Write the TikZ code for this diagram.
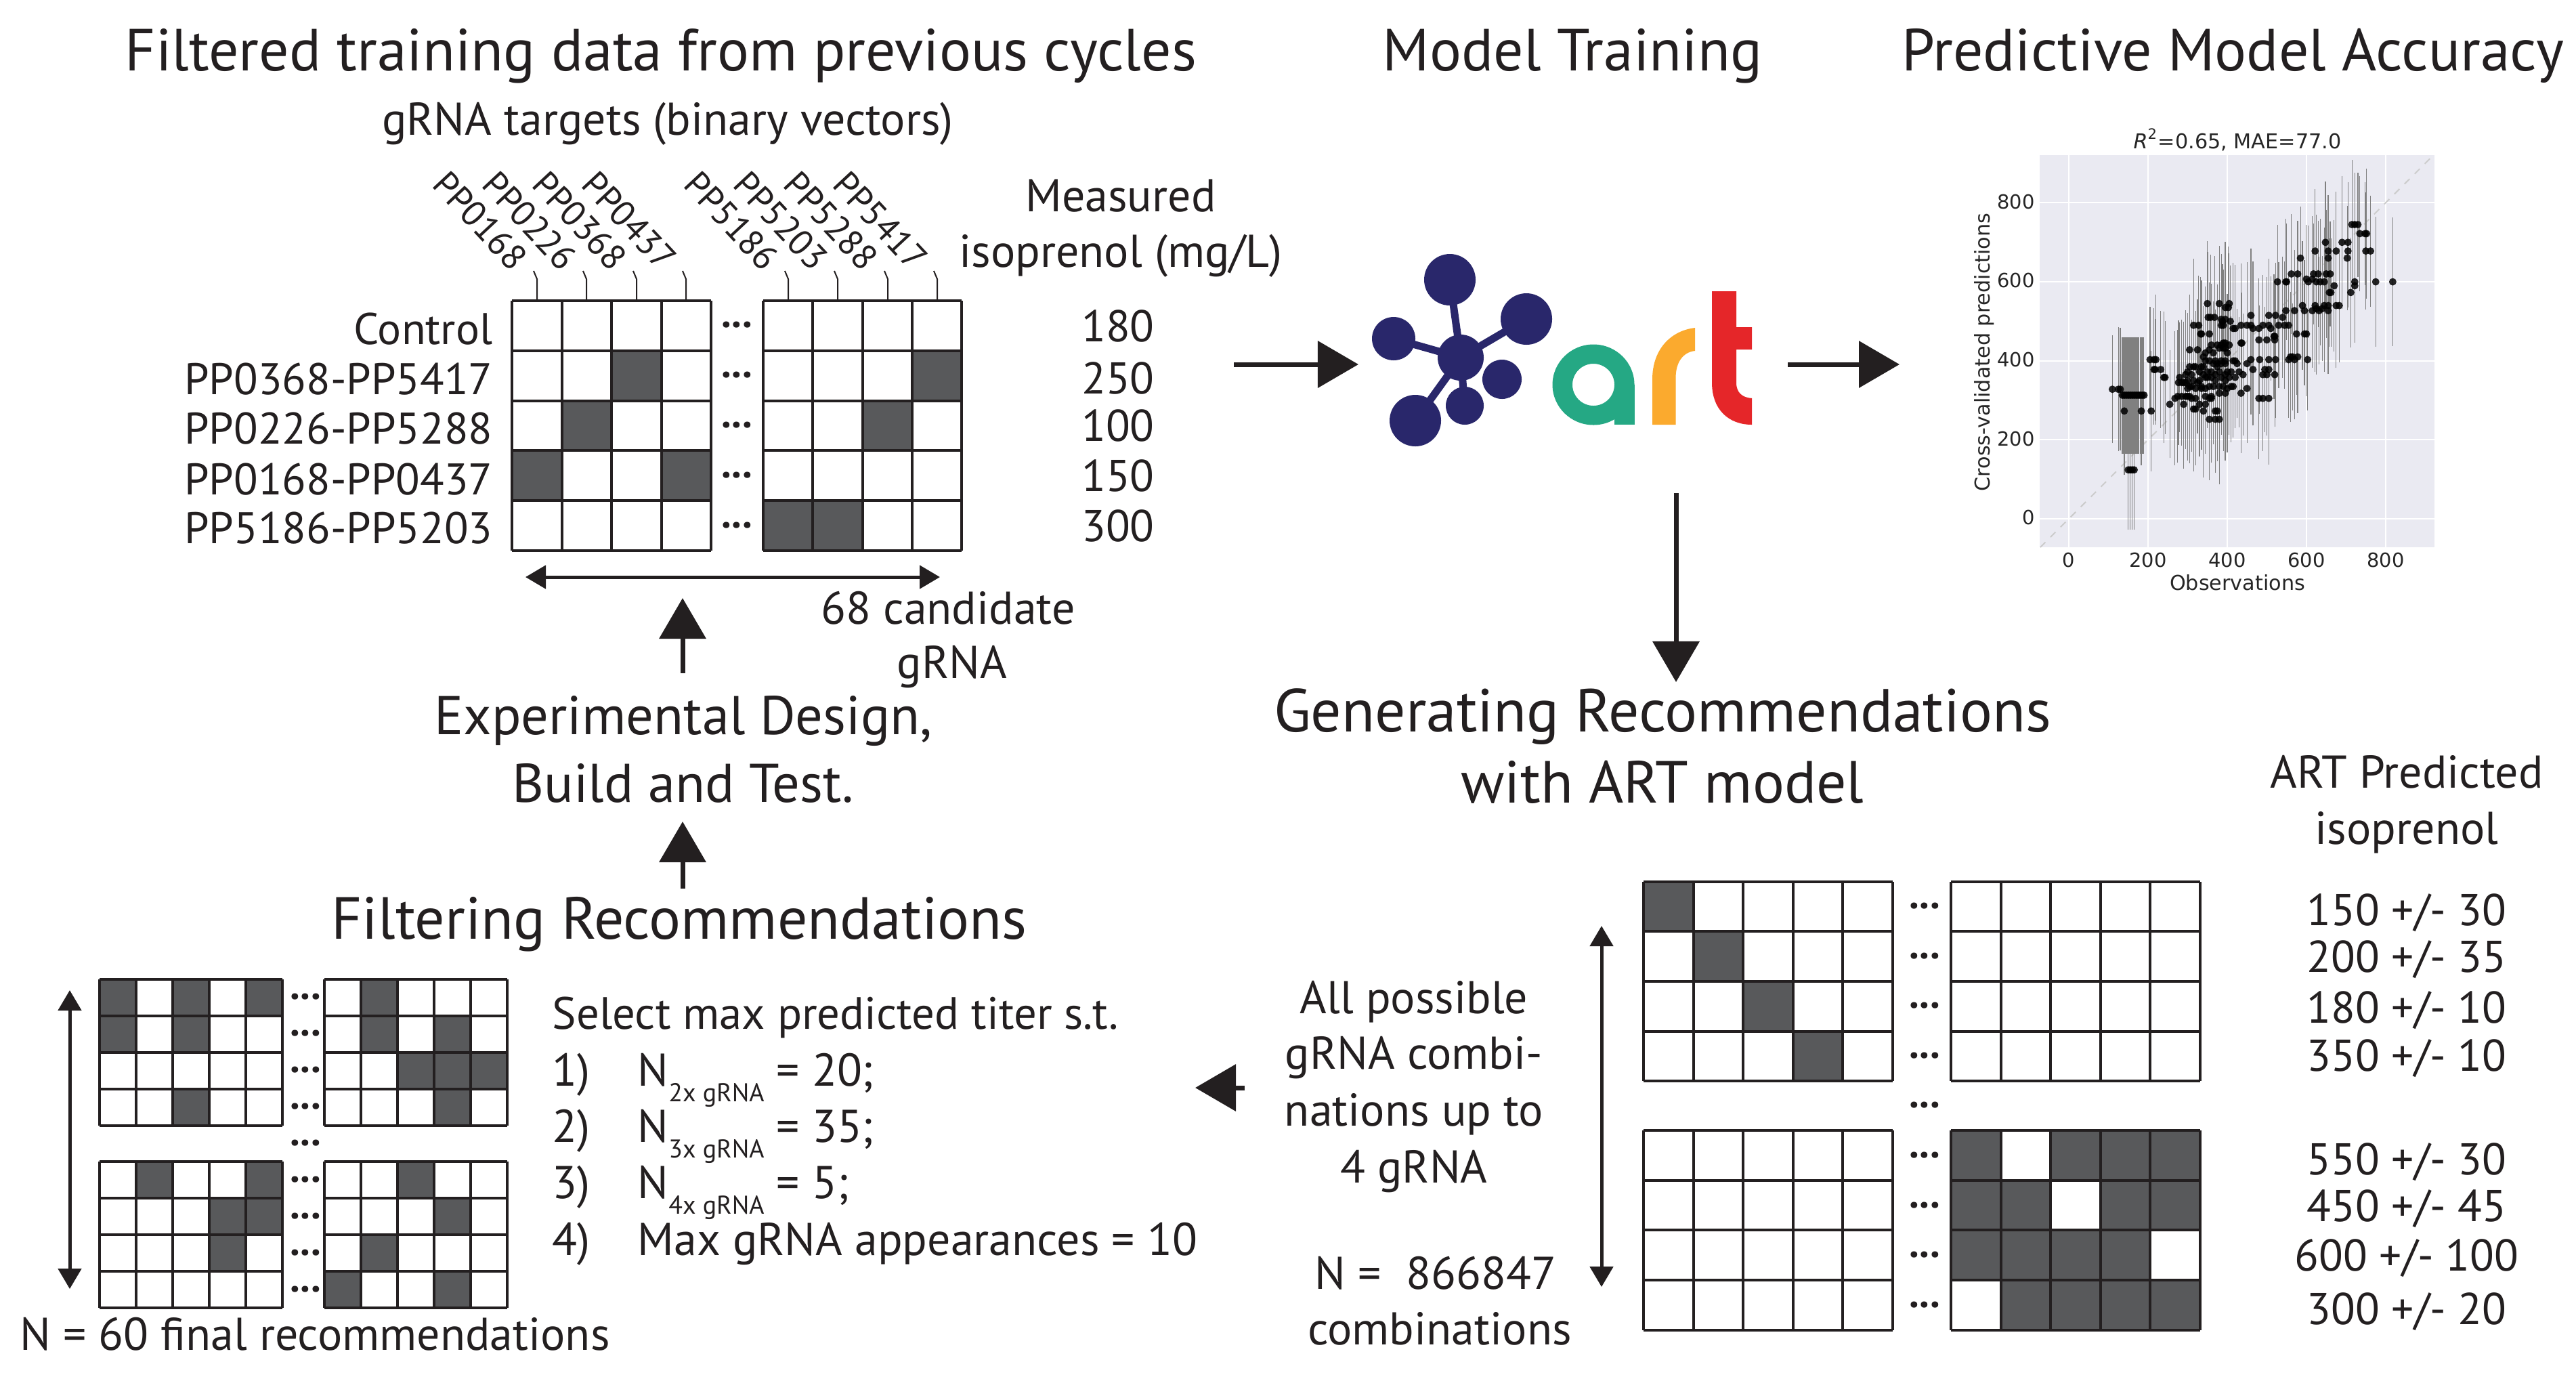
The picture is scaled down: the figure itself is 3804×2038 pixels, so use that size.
\documentclass[tikz,border=0pt]{standalone}
\usepackage{fontspec}
\setmainfont{PT Sans}
\newfontfamily\plotfont{DejaVu Sans}
\usetikzlibrary{arrows.meta,positioning}
\definecolor{inkblack}{RGB}{35,31,32}
\definecolor{cellgray}{RGB}{88,89,91}
\definecolor{plotback}{RGB}{234,234,242}
\definecolor{plotink}{RGB}{38,38,38}
\definecolor{artnavy}{RGB}{41,39,107}
\definecolor{artgreen}{RGB}{37,168,132}
\definecolor{artorange}{RGB}{251,170,46}
\definecolor{artred}{RGB}{229,38,41}
\tikzset{
	txt/.style={inner sep=0pt, anchor=base, text=inkblack},
	headtxt/.style={txt, font=\fontsize{24.95}{29}\selectfont},
	steptxt/.style={txt, font=\fontsize{22.9}{27}\selectfont},
	bodytxt/.style={txt, font=\fontsize{18.6}{23}\selectfont},
	smalltxt/.style={txt, font=\fontsize{19.3}{23}\selectfont},
	valtxt/.style={txt, font=\fontsize{18.7}{23}\selectfont},
	moredots/.style={inner sep=0pt, text=inkblack, font=\fontsize{17}{19}\bfseries\selectfont},
	plottxt/.style={inner sep=0pt, anchor=base, text=plotink, font=\fontsize{8.2}{10}\plotfont},
	gridline/.style={draw=inkblack, line width=.04cm},
	bigarrow/.style={draw=inkblack, fill=inkblack, line width=.07cm, -{Triangle[length=.6cm,width=.68cm]}},
	twoway/.style={draw=inkblack, fill=inkblack, line width=.05cm, {Triangle[length=.3cm,width=.34cm]}-{Triangle[length=.3cm,width=.34cm]}},
}
\newcommand{\cellfill}[5]{%
	\foreach \gc/\gr in {#5} {\fill[cellgray] ({#1+\gc*#3},{#2+\gr*#4}) rectangle +(#3,#4);}}
\newcommand{\cellgrid}[6]{%
	\foreach \gc in {0,...,#3} {\draw[gridline] ({#1+\gc*#5},#2) -- +(0,{#4*#6});}
	\foreach \gr in {0,...,#4} {\draw[gridline] (#1,{#2+\gr*#6}) -- +({#3*#5},0);}}
\newcommand{\nsub}[2]{N\raisebox{-.23cm}{\fontsize{10.8}{13}\selectfont #1 gRNA} = #2;}
\newcommand{\scatterdata}{745/{715,722,730}, 722/{735,748,752}, 700/{648,690,705}, 678/{622,655,675,705,750,762},
	660/{585,655,703}, 620/{562,578,618,630,650,660}, 607/{600,615}, 600/{527,548,550,605,625,635,645,722,775,818},
	590/{670,722}, 573/{658,662,712}, 540/{590,622,645,655,675,683}, 527/{548,570,595,615,632,655}, 532/{625,640},
	515/{460,505,522}, 510/{352,358,368,540}, 545/{350,380,405}, 535/{395,403}, 505/{385,395}, 500/{388,408},
	490/{315,328,385,390,435,450,460,490,505,530,545,555}, 482/{415,420,465,480,510}, 468/{333,335,355,575,595,600},
	462/{518,520}, 453/{480,500,520}, 445/{390,395,435,437}, 440/{360,375,385,405}, 432/{380,390,395}, 428/{305,325,355},
	420/{345,365,400}, 410/{340,560,565,578}, 403/{205,215,220,460,482,505,522,555,570,603}, 400/{345,355,370,385,395,415,420},
	393/{365,375,385,395,425,450}, 385/{305,315,320,335,340,375}, 378/{215,218,232,465,495,505}, 372/{300,330,350,360,380,400,410,430},
	365/{295,310,340,370,395,440,490,500,520}, 358/{240,243,280,345,350,360,385,405,420}, 350/{300,315,330,370,395}, 345/{277,285,290,295,325},
	335/{305,310,335,355,365,380,390,410,415}, 330/{300,320,335,345,400,450}, 318/{380,395,435},
	310/{275,285,295,300,305,345,360}, 305/{268,310,320,355,360,480,490,505}, 290/{255,290,330,345}, 278/{315,320},
	273/{140,183,208,340,370,375}, 252/{355,370,380}, 328/{110,125,130}}

\begin{document}
\begin{tikzpicture}[x=.01cm, y=-.01cm]
	\path[use as bounding box, fill=white] (0,0) rectangle (3804,2038);

	% Titoli
	\node[headtxt] (titleData) at (976,104) {Filtered training data from previous cycles};
	\node[headtxt] (titleModel) at (2322,104) {Model Training};
	\node[headtxt] (titleAccuracy) at (3297,104) {Predictive Model Accuracy};
	\node[smalltxt] (targetsHead) at (986,199) {gRNA targets (binary vectors)};
	\node[smalltxt] (measHead) at (1655,312) {Measured};
	\node[smalltxt, below=.82cm of measHead.base, anchor=base] (measUnit) {isoprenol (mg/L)};

	% Griglia misurata
	\cellfill{756}{444}{73.5}{73.8}{2/1, 1/2, 0/3, 3/3}
	\cellfill{1127}{444}{73.25}{73.8}{3/1, 2/2, 0/4, 1/4}
	\cellgrid{756}{444}{4}{5}{73.5}{73.8}
	\cellgrid{1127}{444}{4}{5}{73.25}{73.8}
	\foreach \tickx/\gene in {793/PP0168, 866/PP0226, 940/PP0368, 1013/PP0437, 1164/PP5186, 1237/PP5203, 1311/PP5288, 1384/PP5417} {
		\draw[inkblack, line width=.02cm] (\tickx,444) -- (\tickx,412) -- ++(-5,-12);
		\node[txt, anchor=east, rotate=-47, font=\fontsize{15}{18}\selectfont] (\gene) at ({\tickx-24},390) {\gene};
	}
	\foreach \i/\rowname/\rowbase/\val/\valbase in {1/Control/508/180/504, 2/PP0368-PP5417/582/250/581, 3/PP0226-PP5288/655/100/651, 4/PP0168-PP0437/730/150/725, 5/PP5186-PP5203/802/300/799} {
		\node[bodytxt, anchor=base east] (row\i) at (728,\rowbase) {\rowname};
		\node[valtxt] (val\i) at (1651,\valbase) {\val};
		\node[moredots] (rowdots\i) at (1088,{480+(\i-1)*73.8}) {...};
	}
	\coordinate (spanL) at (776,852);
	\coordinate (spanR) at (1388,852);
	\draw[twoway] (spanL) -- (spanR);
	\node[smalltxt] (candA) at (1400,921) {68 candidate};
	\node[smalltxt, below=.8cm of candA.base, anchor=base, xshift=.06cm] (candB) {gRNA};

	% Progettazione
	\node[steptxt] (expA) at (1009,1084) {Experimental Design,};
	\node[steptxt, below=1cm of expA.base, anchor=base] (expB) {Build and Test.};
	\coordinate (upOneTail) at (1008,994);
	\coordinate (upOneTip) at (1008,883);
	\draw[bigarrow] (upOneTail) -- (upOneTip);
	\coordinate (upTwoTail) at (1008,1312);
	\coordinate (upTwoTip) at (1008,1213);
	\draw[bigarrow] (upTwoTail) -- (upTwoTip);

	% Logo
	\foreach \bx/\by/\brad in {2141/413/38, 2254/471/38, 2058/500/32, 2157/528/34, 2218/560/29, 2163/599/28, 2090/621/38} {
		\fill[artnavy] (\bx,\by) circle[radius=\brad];
	}
	\foreach \bx/\by in {2141/413, 2254/471, 2058/500, 2163/599, 2090/621} {
		\draw[artnavy, line width=.11cm] (2157,528) -- (\bx,\by);
	}
	\fill[artgreen, even odd rule] (2353,568) ellipse[x radius=60.5, y radius=59.5] (2353,568) ellipse[x radius=31, y radius=31];
	\fill[artgreen] (2384,568) rectangle (2413.5,627);
	\fill[artorange] (2440,627) -- (2440,560) .. controls (2440,515) and (2468,488) .. (2503,484) -- (2503,518) .. controls (2485,520) and (2474.5,535) .. (2474.5,558) -- (2474.5,627) -- cycle;
	\fill[artred] (2528,430) -- (2564,430) -- (2564,483) -- (2587,483) -- (2587,516) -- (2564,516) -- (2564,565) .. controls (2564,580) and (2573,587) .. (2587,588) -- (2587,627) .. controls (2553,627) and (2528,605) .. (2528,565) -- cycle;
	\coordinate (trainIn) at (1822,538);
	\coordinate (trainInTip) at (2006,538);
	\draw[bigarrow] (trainIn) -- (trainInTip);
	\coordinate (trainOut) at (2640,538);
	\coordinate (trainOutTip) at (2805,538);
	\draw[bigarrow] (trainOut) -- (trainOutTip);
	\coordinate (genTail) at (2475,728);
	\coordinate (genTip) at (2475,1007);
	\draw[bigarrow] (genTail) -- (genTip);

	% Grafico
	\fill[plotback] (3012,229) rectangle (3595,808);
	\node[plottxt, font=\fontsize{8.6}{10}\plotfont] (plotTitle) at (3304,219) {\textit{R}\textsuperscript{2}=0.65, MAE=77.0};
	\node[plottxt, font=\fontsize{8.6}{10}\plotfont] (plotX) at (3304,871) {Observations};
	\node[plottxt, font=\fontsize{8.6}{10}\plotfont, rotate=90] (plotY) at (2938,520) {Cross-validated predictions};
	\begin{scope}[shift={(3055,766)}, x=.005843cm, y=.005825cm]
		\foreach \tick in {0,200,400,600,800} {
			\draw[white, line width=.02cm] (\tick,-72) -- (\tick,922);
			\draw[white, line width=.02cm] (-73.6,\tick) -- (924,\tick);
			\node[plottxt] (xtick\tick) at (\tick,-122) {\tick};
			\node[plottxt, anchor=mid east] (ytick\tick) at (-85,\tick) {\tick};
		}
		\draw[gray!40, dashed, line width=.02cm] (-72,-72) -- (922,922);
		\pgfmathsetseed{7}
		\foreach \py/\xs in \scatterdata {
			\foreach \px in \xs {
				\pgfmathsetmacro{\perr}{125+45*rnd}
				\draw[gray, line width=.012cm] (\px,\py-\perr) -- (\px,\py+\perr);
			}
		}
		\foreach \px in {135,138,...,190} {\draw[gray, line width=.016cm] (\px,165) -- (\px,460);}
		\foreach \px in {150,155,160,165} {\draw[gray, line width=.012cm] (\px,-28) -- (\px,276);}
		\foreach \py/\xs in \scatterdata {
			\foreach \px in \xs {\fill[black, opacity=.85] (\px,\py) circle[radius=.055cm];}
		}
		\foreach \px in {135,140,...,190} {\fill[black, opacity=.85] (\px,313) circle[radius=.055cm];}
		\foreach \px in {150,155,160,165} {\fill[black, opacity=.85] (\px,124) circle[radius=.055cm];}
	\end{scope}

	% Raccomandazioni
	\node[headtxt, font=\fontsize{25.5}{29}\selectfont] (genA) at (2455,1080) {Generating Recommendations};
	\node[headtxt, below=1.05cm of genA.base, anchor=base] (genB) {with ART model};
	\node[smalltxt] (predA) at (3554,1163) {ART Predicted};
	\node[smalltxt, below=.83cm of predA.base, anchor=base] (predB) {isoprenol};
	\cellfill{2427}{1301.5}{73.6}{73.7}{0/0, 1/1, 2/2, 3/3}
	\cellfill{2881}{1669}{73.6}{73.7}{0/0, 2/0, 3/0, 4/0, 0/1, 1/1, 3/1, 4/1, 0/2, 1/2, 2/2, 3/2, 1/3, 2/3, 3/3, 4/3}
	\cellgrid{2427}{1301.5}{5}{4}{73.6}{73.7}
	\cellgrid{2881}{1301.5}{5}{4}{73.6}{73.7}
	\cellgrid{2427}{1669}{5}{4}{73.6}{73.7}
	\cellgrid{2881}{1669}{5}{4}{73.6}{73.7}
	\foreach \i/\dotbase in {1/1338, 2/1412, 3/1485, 4/1559, 5/1632, 6/1706, 7/1780, 8/1853, 9/1927} {
		\node[moredots] (gendots\i) at (2842,\dotbase) {...};
	}
	\foreach \i/\val/\valbase in {1/{150 +/- 30}/1366, 2/{200 +/- 35}/1435, 3/{180 +/- 10}/1510, 4/{350 +/- 10}/1581, 5/{550 +/- 30}/1734, 6/{450 +/- 45}/1803, 7/{600 +/- 100}/1876, 8/{300 +/- 20}/1955} {
		\node[valtxt] (pred\i) at (3554,\valbase) {\val};
	}
	\coordinate (allUp) at (2365,1367);
	\coordinate (allDown) at (2365,1900);
	\draw[twoway] (allUp) -- (allDown);
	\node[smalltxt] (allA) at (2088,1496) {All possible};
	\node[smalltxt] (allB) at (2088,1578) {gRNA combi-};
	\node[smalltxt] (allC) at (2088,1662) {nations up to};
	\node[smalltxt] (allD) at (2088,1746) {4 gRNA};
	\node[smalltxt] (allE) at (2120,1903) {N =~ 866847};
	\node[smalltxt] (allF) at (2126,1985) {combinations};
	\coordinate (filterTail) at (1838,1606);
	\coordinate (filterTip) at (1765,1606);
	\draw[bigarrow] (filterTail) -- (filterTip);

	% Filtro
	\node[headtxt] (filterHead) at (1003,1386) {Filtering Recommendations};
	\cellfill{147}{1446}{54}{53.9}{0/0, 2/0, 4/0, 0/1, 2/1, 2/3}
	\cellfill{479}{1446}{54}{53.9}{1/0, 1/1, 3/1, 2/2, 3/2, 4/2, 3/3}
	\cellfill{147}{1715}{54}{53.9}{1/0, 4/0, 3/1, 4/1, 3/2}
	\cellfill{479}{1715}{54}{53.9}{2/0, 3/1, 1/2, 0/3, 3/3}
	\cellgrid{147}{1446}{5}{4}{54}{53.9}
	\cellgrid{479}{1446}{5}{4}{54}{53.9}
	\cellgrid{147}{1715}{5}{4}{54}{53.9}
	\cellgrid{479}{1715}{5}{4}{54}{53.9}
	\foreach \i/\dotbase in {1/1472, 2/1526, 3/1580, 4/1634, 5/1688, 6/1742, 7/1796, 8/1850, 9/1904} {
		\node[moredots] (filterdots\i) at (451,\dotbase) {...};
	}
	\coordinate (finalUp) at (103,1462);
	\coordinate (finalDown) at (103,1903);
	\draw[twoway] (finalUp) -- (finalDown);
	\node[smalltxt] (finalN) at (465,1993) {N = 60 final recommendations};
	\node[smalltxt, anchor=base west, font=\fontsize{19}{23}\selectfont] (selHead) at (815,1519) {Select max predicted titer s.t.};
	\foreach \i/\itembase/\itemtext in {1/1603/{\nsub{2x}{20}}, 2/1686/{\nsub{3x}{35}}, 3/1769/{\nsub{4x}{5}}, 4/1853/{Max gRNA appearances = 10}} {
		\node[smalltxt, anchor=base west] (selNum\i) at (815,\itembase) {\i)};
		\node[smalltxt, anchor=base west] (selItem\i) at (941,\itembase) {\itemtext};
	}
\end{tikzpicture}
\end{document}
